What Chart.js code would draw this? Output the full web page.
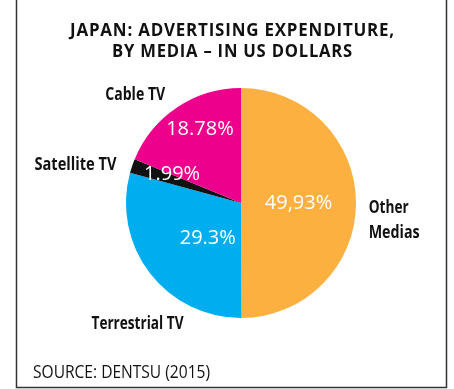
<!DOCTYPE html>
<html>
<head>
<meta charset="utf-8">
<script src="https://cdn.jsdelivr.net/npm/chart.js@4"></script>
<style>
  html, body { margin: 0; padding: 0; background: #fff; }
  #wrap { width: 454px; height: 389px; position: relative; }
</style>
</head>
<body>
<div id="wrap"><canvas id="chart" width="454" height="389"></canvas></div>
<script>
const mediaNames = ['Other Medias', 'Terrestrial TV', 'Satellite TV', 'Cable TV'];
const shares = [49.93, 29.3, 1.99, 18.78];
const shareLabels = ['49,93%', '29.3%', '1.99%', '18.78%'];
const sliceColors = ['#FBB040', '#00AEEF', '#111111', '#EC008C'];
const titleLines = ['JAPAN: ADVERTISING EXPENDITURE,', 'BY MEDIA \u2013 IN US DOLLARS'];
const sourceText = 'SOURCE: DENTSU (2015)';

// where the white value labels sit, as fraction of radius + angle nudge (deg)
const inner = [
  { r: 0.5, a: 0 },
  { r: 0.42, a: -9 },
  { r: 0.65, a: 4 },
  { r: 0.73, a: 4.5 }
];
// outer name labels, relative to pie centre in radius units; w = squeezed width
const outer = [
  { lines: ['Other', 'Medias'], w: [40, 51], dx: 1.11, dy: 0.04, align: 'left' },
  { lines: ['Terrestrial TV'], w: [92], dx: -0.9, dy: 1.05, align: 'center' },
  { lines: ['Satellite TV'], w: [82], dx: -1.44, dy: -0.33, align: 'center' },
  { lines: ['Cable TV'], w: [60], dx: -0.92, dy: -0.94, align: 'center' }
];

const textPlugin = {
  id: 'textPlugin',
  afterDraw(chart) {
    const ctx = chart.ctx;
    const arcs = chart.getDatasetMeta(0).data;
    const cx = arcs[0].x, cy = arcs[0].y, R = arcs[0].outerRadius;
    ctx.save();

    // frame
    ctx.strokeStyle = '#333';
    ctx.lineWidth = 1.5;
    ctx.beginPath();
    ctx.moveTo(16.5, 0);
    ctx.lineTo(16.5, 387.5);
    ctx.lineTo(446.5, 387.5);
    ctx.lineTo(446.5, 0);
    ctx.stroke();

    // title
    ctx.fillStyle = '#111';
    ctx.textAlign = 'center';
    ctx.textBaseline = 'middle';
    ctx.font = 'bold 17px "Open Sans"';
    ctx.letterSpacing = '0.8px';
    ctx.fillText(titleLines[0], 232.5, 31, 325);
    ctx.fillText(titleLines[1], 232.5, 52, 241);
    ctx.letterSpacing = '0px';

    // values
    ctx.fillStyle = '#fff';
    ctx.font = '20px "Open Sans"';
    arcs.forEach((arc, i) => {
      const mid = (arc.startAngle + arc.endAngle) / 2 + inner[i].a * Math.PI / 180;
      const x = cx + Math.cos(mid) * R * inner[i].r;
      const y = cy + Math.sin(mid) * R * inner[i].r;
      ctx.fillText(shareLabels[i], x, y);
    });

    // names
    ctx.fillStyle = '#111';
    ctx.font = 'bold 18px "Open Sans"';
    outer.forEach((o) => {
      ctx.textAlign = o.align;
      o.lines.forEach((ln, k) => {
        ctx.fillText(ln, cx + o.dx * R, cy + o.dy * R + k * 25, o.w[k]);
      });
    });

    // source
    ctx.textAlign = 'left';
    ctx.font = '18px "Open Sans"';
    ctx.fillText(sourceText, 33, 373, 177);
    ctx.restore();
  }
};

new Chart(document.getElementById('chart'), {
  type: 'pie',
  data: {
    labels: mediaNames,
    datasets: [{
      data: shares,
      backgroundColor: sliceColors,
      borderWidth: 0
    }]
  },
  options: {
    responsive: false,
    animation: false,
    layout: { padding: { top: 88, bottom: 71, left: 126, right: 98 } },
    plugins: {
      legend: { display: false },
      tooltip: { enabled: false },
      title: { display: false }
    }
  },
  plugins: [textPlugin]
});
</script>
</body>
</html>
